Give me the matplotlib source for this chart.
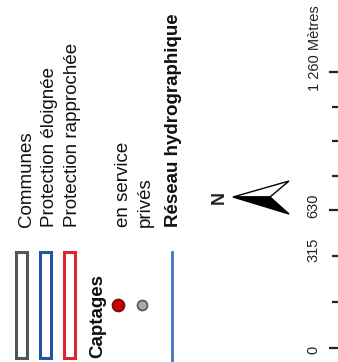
import numpy as np
import matplotlib.pyplot as plt
from matplotlib.patches import Rectangle, Polygon

plt.rcParams['font.family'] = ['Liberation Sans', 'DejaVu Sans']

# legend content
zone_labels = ['Communes', 'Protection éloignée', 'Protection rapprochée']
zone_colors = ['#555555', '#1f56a5', '#d9272e']
captage_labels = ['en service', 'privés']
captage_colors = ['#cc0000', '#a8a8a8']
captage_edges = ['#6a1010', '#555555']
captage_sizes = [12, 10]
reseau_label = 'Réseau hydrographique'
reseau_color = '#3a78c2'

# scale bar (metres)
scale_ticks = [0, 210, 420, 630, 787.5, 945, 1102.5, 1260]
scale_major = [0, 630, 1260]
scale_labels = ['0', '315', '630', '1 260']
scale_label_at = [-8, 450, 650, 1260]
unit = 'Mètres'

W, H = 338, 362
fig = plt.figure(figsize=(W / 100, H / 100), dpi=100)
ax = fig.add_axes([0, 0, 1, 1])
ax.set_xlim(0, W)
ax.set_ylim(H, 0)
ax.axis('off')

fs = 13.5
# zone boxes + labels (everything is rotated 90 degrees)
for i, (lab, col) in enumerate(zip(zone_labels, zone_colors)):
    x0 = 15.5 + i * 24
    ax.add_patch(Rectangle((x0, 251.5), 11.5, 106.5, fill=False, edgecolor=col, lw=2.2))
    ax.text(31 + i * 23, 227, lab, rotation=90, rotation_mode='anchor',
            ha='left', va='baseline', fontsize=fs, color='#111111')

ax.text(102.5, 358, 'Captages', rotation=90, rotation_mode='anchor',
        ha='left', va='baseline', fontsize=fs, fontweight='bold', color='#111111')

for i, (lab, col, ec, s) in enumerate(zip(captage_labels, captage_colors, captage_edges, captage_sizes)):
    ax.plot([118 + i * 24], [305], 'o', ms=s * 0.72, mfc=col, mec=ec, mew=1.2)
    ax.text(127.5 + i * 22, 227, lab, rotation=90, rotation_mode='anchor',
            ha='left', va='baseline', fontsize=fs, color='#111111')

ax.plot([172, 172], [252, 362], color=reseau_color, lw=2)
ax.text(177.5, 227, reseau_label, rotation=90, rotation_mode='anchor',
        ha='left', va='baseline', fontsize=fs, fontweight='bold', color='#111111')

# north arrow
ax.add_patch(Polygon([(233, 197), (289, 181), (270, 197)], closed=True,
                     facecolor='white', edgecolor='black', lw=1.0))
ax.add_patch(Polygon([(233, 197), (289, 214), (270, 197)], closed=True,
                     facecolor='black', edgecolor='black', lw=1.0))
ax.text(219, 197, 'N', rotation=90, ha='center', va='center',
        fontsize=13, fontweight='bold', color='#222222')

# scale bar
px_per_m = 276 / 1260
def sy(m):
    return 348 - m * px_per_m

for m in scale_ticks:
    x_start = 329 if m in scale_major else 331.5
    ax.plot([x_start, 338], [sy(m), sy(m)], color='#222222', lw=1.6, solid_capstyle='butt')

for lab, m in zip(scale_labels, scale_label_at):
    if lab == scale_labels[-1]:
        ax.text(319, sy(m) + 19, lab + ' ' + unit, rotation=90, rotation_mode='anchor',
                ha='left', va='baseline', fontsize=10.5, color='#222222')
    else:
        ax.text(313.5, sy(m), lab, rotation=90, ha='center', va='center',
                fontsize=10.5, color='#222222')

fig.savefig('out.png', dpi=100)
